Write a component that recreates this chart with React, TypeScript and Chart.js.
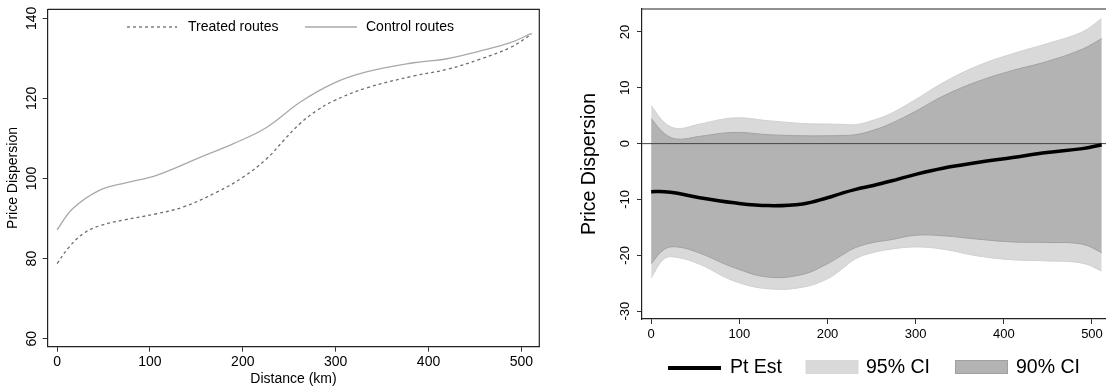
import React, { useEffect, useRef } from "react";
import { Chart, registerables } from "chart.js";

Chart.register(...registerables);

const FONT = '"Liberation Sans", Arial, Helvetica, sans-serif';

// ---------- Left panel data ----------
const LEFT_X_TICKS = [0, 100, 200, 300, 400, 500];
const LEFT_Y_TICKS = [60, 80, 100, 120, 140];
const TREATED_DIST = [0, 12, 28, 46, 71, 107, 136, 172, 200, 226, 244, 262, 280, 297, 333, 384, 420, 455, 488, 511];
const TREATED_PD = [78.75, 82.6, 86.2, 88.2, 89.6, 91.2, 92.9, 96.6, 100.3, 105, 109.5, 113.8, 117, 119.3, 122.6, 125.6, 127.25, 129.75, 132.7, 136];
const CONTROL_DIST = [0, 17, 46, 75, 107, 154, 190, 226, 262, 297, 333, 384, 420, 455, 488, 511];
const CONTROL_PD = [87.2, 92.5, 97.1, 99.0, 100.8, 105.3, 108.7, 112.8, 119.1, 123.7, 126.6, 128.9, 129.9, 131.8, 133.9, 136.25];

// ---------- Right panel data ----------
const RIGHT_X_TICKS = [0, 100, 200, 300, 400, 500];
const RIGHT_Y_TICKS = [-30, -20, -10, 0, 10, 20];
const DIST = [0, 15, 30, 55, 94, 133, 172, 200, 216, 232, 252, 272, 300, 331, 370, 410, 449, 489, 511];
const PT_EST = [-8.6, -8.6, -8.9, -9.7, -10.6, -11.1, -10.8, -9.7, -8.9, -8.2, -7.5, -6.7, -5.5, -4.4, -3.4, -2.5, -1.6, -0.9, -0.2];
const UPPER_90 = [4.5, 1.8, 0.8, 1.3, 2.0, 1.6, 1.4, 1.4, 1.45, 1.6, 2.4, 3.6, 5.8, 8.5, 11.1, 13.1, 14.7, 16.9, 18.8];
const LOWER_90 = [-21.5, -18.9, -18.5, -19.6, -22.2, -23.9, -23.4, -21.5, -20.0, -18.6, -17.7, -17.2, -16.4, -16.5, -17.1, -17.6, -17.7, -18.0, -19.5];
const UPPER_95 = [6.8, 3.8, 2.7, 3.5, 4.6, 4.1, 3.6, 3.5, 3.45, 3.4, 4.2, 5.4, 7.9, 10.9, 13.9, 16.1, 17.9, 20.0, 22.4];
const LOWER_95 = [-24.0, -20.6, -20.4, -21.6, -24.6, -26.0, -25.7, -24.2, -22.5, -20.6, -19.5, -18.9, -18.5, -18.9, -20.1, -20.8, -21.0, -21.4, -22.8];

const pts = (xs: number[], ys: number[]) => xs.map((x, i) => ({ x, y: ys[i] }));

const leftFrame = {
  id: "leftFrame",
  afterDraw(chart: any) {
    const { ctx, chartArea: a } = chart;
    ctx.save();
    ctx.strokeStyle = "#222";
    ctx.lineWidth = 1.2;
    ctx.beginPath();
    ctx.moveTo(a.left, a.top);
    ctx.lineTo(a.right, a.top);
    ctx.lineTo(a.right, a.bottom);
    ctx.stroke();
    // legend
    const y = 27;
    ctx.lineWidth = 1.3;
    ctx.strokeStyle = "#6e6e6e";
    ctx.setLineDash([3, 3]);
    ctx.beginPath();
    ctx.moveTo(127, y);
    ctx.lineTo(177, y);
    ctx.stroke();
    ctx.setLineDash([]);
    ctx.strokeStyle = "#a9a9a9";
    ctx.beginPath();
    ctx.moveTo(305, y);
    ctx.lineTo(357, y);
    ctx.stroke();
    ctx.fillStyle = "#000";
    ctx.font = `14px ${FONT}`;
    ctx.textBaseline = "middle";
    ctx.textAlign = "left";
    ctx.fillText("Treated routes", 188, y);
    ctx.fillText("Control routes", 366, y);
    ctx.restore();
  },
};

const rightDecor = {
  id: "rightDecor",
  beforeDatasetDraw(chart: any, args: any) {
    if (args.index !== 0) return;
    const { ctx, chartArea: a, scales } = chart;
    const y0 = scales.y.getPixelForValue(0);
    ctx.save();
    ctx.strokeStyle = "#444";
    ctx.lineWidth = 1;
    ctx.beginPath();
    ctx.moveTo(a.left, y0);
    ctx.lineTo(a.right, y0);
    ctx.stroke();
    ctx.restore();
  },
  afterDraw(chart: any) {
    const { ctx, chartArea: a } = chart;
    ctx.save();
    ctx.strokeStyle = "#222";
    ctx.lineWidth = 1.2;
    ctx.beginPath();
    ctx.moveTo(a.left, a.top);
    ctx.lineTo(a.right, a.top);
    ctx.stroke();
    // legend
    const y = 368;
    ctx.strokeStyle = "#000";
    ctx.lineWidth = 4;
    ctx.beginPath();
    ctx.moveTo(108, y);
    ctx.lineTo(161, y);
    ctx.stroke();
    ctx.fillStyle = "#d9d9d9";
    ctx.fillRect(245.5, 360, 53, 14);
    ctx.fillStyle = "#b3b3b3";
    ctx.fillRect(395, 360, 53, 14);
    ctx.strokeStyle = "#a0a0a0";
    ctx.lineWidth = 1;
    ctx.strokeRect(395.5, 360.5, 52, 13);
    ctx.fillStyle = "#000";
    ctx.font = `19.5px ${FONT}`;
    ctx.textBaseline = "middle";
    ctx.textAlign = "left";
    ctx.fillText("Pt Est", 170, y);
    ctx.fillText("95% CI", 306, y);
    ctx.fillText("90% CI", 456, y);
    ctx.restore();
  },
};

function axisBase(ticksList: number[]) {
  return {
    type: "linear" as const,
    afterBuildTicks: (s: any) => {
      s.ticks = ticksList.map((v) => ({ value: v }));
    },
    grid: { drawOnChartArea: false, drawTicks: true, tickLength: 5, color: "#333", lineWidth: 1 },
    border: { color: "#222", width: 1.2 },
  };
}

function LeftChart() {
  const ref = useRef<HTMLCanvasElement>(null);
  useEffect(() => {
    const font = { family: FONT, size: 14 };
    const chart = new Chart(ref.current as HTMLCanvasElement, {
      type: "line",
      data: {
        datasets: [
          {
            label: "Treated routes",
            data: pts(TREATED_DIST, TREATED_PD),
            borderColor: "#6e6e6e",
            borderWidth: 1.3,
            borderDash: [3, 3],
            pointRadius: 0,
            tension: 0.4,
            fill: false,
          },
          {
            label: "Control routes",
            data: pts(CONTROL_DIST, CONTROL_PD),
            borderColor: "#a9a9a9",
            borderWidth: 1.3,
            pointRadius: 0,
            tension: 0.4,
            fill: false,
          },
        ],
      } as any,
      options: {
        animation: false,
        responsive: false,
        maintainAspectRatio: false,
        layout: { padding: { left: 0, right: 20.7, top: 9.3, bottom: 0 } },
        plugins: { legend: { display: false }, tooltip: { enabled: false } },
        scales: {
          x: {
            ...axisBase(LEFT_X_TICKS),
            min: -10.1,
            max: 519.3,
            afterFit: (s: any) => {
              s.height = 42.3;
              s.paddingLeft = 0;
              s.paddingRight = 0;
            },
            ticks: { color: "#000", font, padding: 2, maxRotation: 0, autoSkip: false },
            title: {
              display: true,
              text: "Distance (km)",
              color: "#000",
              font,
              padding: { top: 0, bottom: 1.5 },
            },
          },
          y: {
            ...axisBase(LEFT_Y_TICKS),
            min: 58,
            max: 142.25,
            afterFit: (s: any) => {
              s.width = 47.7;
              s.paddingTop = 0;
              s.paddingBottom = 0;
            },
            ticks: {
              color: "#000",
              font,
              padding: -0.7,
              minRotation: 90,
              maxRotation: 90,
              crossAlign: "center",
              autoSkip: false,
            },
            title: {
              display: true,
              text: "Price Dispersion",
              color: "#000",
              font,
              padding: { top: 4.5, bottom: 0 },
            },
          },
        },
      } as any,
      plugins: [leftFrame],
    });
    return () => chart.destroy();
  }, []);
  return (
    <canvas
      ref={ref}
      width={560}
      height={389}
      style={{ position: "absolute", left: 0, top: 0, width: 560, height: 389 }}
    />
  );
}

function RightChart() {
  const ref = useRef<HTMLCanvasElement>(null);
  useEffect(() => {
    const line = { pointRadius: 0, tension: 0.4 };
    const tickFont = { family: FONT, size: 13 };
    const chart = new Chart(ref.current as HTMLCanvasElement, {
      type: "line",
      data: {
        datasets: [
          { label: "Pt Est", data: pts(DIST, PT_EST), borderColor: "#000", borderWidth: 3.5, fill: false, order: 0, ...line },
          { label: "90% CI upper", data: pts(DIST, UPPER_90), borderColor: "#a2a2a2", borderWidth: 1, fill: false, order: 1, ...line },
          {
            label: "90% CI lower",
            data: pts(DIST, LOWER_90),
            borderColor: "#a2a2a2",
            borderWidth: 1,
            backgroundColor: "#b3b3b3",
            fill: { target: 1 },
            order: 1,
            ...line,
          },
          { label: "95% CI upper", data: pts(DIST, UPPER_95), borderColor: "#d0d0d0", borderWidth: 1, fill: false, order: 2, ...line },
          {
            label: "95% CI lower",
            data: pts(DIST, LOWER_95),
            borderColor: "#d0d0d0",
            borderWidth: 1,
            backgroundColor: "#d9d9d9",
            fill: { target: 3 },
            order: 2,
            ...line,
          },
        ],
      } as any,
      options: {
        animation: false,
        responsive: false,
        maintainAspectRatio: false,
        layout: { padding: { left: 0, right: 0, top: 9, bottom: 40 } },
        plugins: { legend: { display: false }, tooltip: { enabled: false } },
        scales: {
          x: {
            ...axisBase(RIGHT_X_TICKS),
            min: -10.4,
            max: 515.9,
            afterFit: (s: any) => {
              s.height = 30;
              s.paddingLeft = 0;
              s.paddingRight = 0;
            },
            ticks: { color: "#000", font: tickFont, padding: 3, maxRotation: 0, autoSkip: false },
          },
          y: {
            ...axisBase(RIGHT_Y_TICKS),
            min: -31.4,
            max: 24.1,
            afterFit: (s: any) => {
              s.width = 82;
              s.paddingTop = 0;
              s.paddingBottom = 0;
            },
            ticks: {
              color: "#000",
              font: tickFont,
              padding: 2.6,
              minRotation: 90,
              maxRotation: 90,
              crossAlign: "center",
              autoSkip: false,
            },
            title: {
              display: true,
              text: "Price Dispersion",
              color: "#000",
              font: { family: FONT, size: 19.5 },
              padding: { top: 17.9, bottom: 0 },
            },
          },
        },
      } as any,
      plugins: [rightDecor],
    });
    return () => chart.destroy();
  }, []);
  return (
    <canvas
      ref={ref}
      width={546}
      height={389}
      style={{ position: "absolute", left: 560, top: 0, width: 546, height: 389 }}
    />
  );
}

export default function App() {
  return (
    <div
      style={{
        position: "absolute",
        left: 0,
        top: 0,
        width: 1106,
        height: 389,
        overflow: "hidden",
        background: "#fff",
      }}
    >
      <LeftChart />
      <RightChart />
    </div>
  );
}
